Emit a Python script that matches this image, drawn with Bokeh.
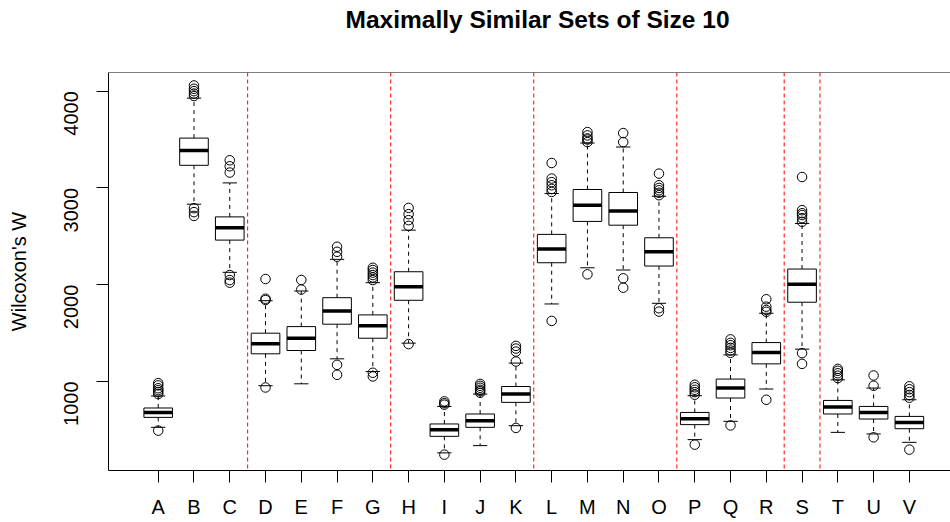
import numpy as np
from bokeh.plotting import figure
from bokeh.models import Range1d, FixedTicker, Span, ColumnDataSource, Title
from bokeh.embed import file_html
from bokeh.resources import INLINE

categories = list("ABCDEFGHIJKLMNOPQRSTUV")
positions = list(range(1, len(categories) + 1))

lower_whisker = [526, 2832, 2128, 956, 976, 1234, 1103, 1396, 262, 337, 543,
                 1801, 2175, 2152, 1808, 399, 588, 922, 1334, 474, 458, 371]
q1 = [629, 3234, 2461, 1286, 1320, 1592, 1447, 1839, 433, 526, 784,
      2227, 2654, 2615, 2193, 554, 829, 1182, 1819, 664, 612, 512]
median = [680, 3386, 2588, 1389, 1447, 1729, 1577, 1979, 502, 595, 870,
          2368, 2822, 2763, 2340, 615, 932, 1299, 2004, 736, 680, 577]
q3 = [726, 3515, 2701, 1499, 1567, 1866, 1688, 2134, 561, 664, 948,
      2520, 2984, 2953, 2485, 680, 1025, 1402, 2162, 804, 742, 639]
upper_whisker = [850, 3928, 3052, 1835, 1935, 2262, 2021, 2564, 742, 870, 1190,
                 2942, 3464, 3423, 2914, 853, 1275, 1705, 2633, 1017, 932, 811]
outliers = {
    "A": [492, 870, 890, 910, 930, 960, 983],
    "B": [2711, 2750, 2791, 3950, 3975, 4000, 4025, 4059],
    "C": [2021, 2048, 2100, 3159, 3224, 3286],
    "D": [938, 1842, 1855, 2059],
    "E": [1950, 2049],
    "F": [1069, 1172, 2289, 2340, 2392],
    "G": [1052, 1090, 2048, 2075, 2100, 2125, 2152, 2175],
    "H": [1386, 2608, 2667, 2729, 2794],
    "I": [244, 760, 775, 794],
    "J": [883, 900, 914, 935, 955, 975],
    "K": [520, 1206, 1309, 1340, 1368],
    "L": [1626, 2959, 2990, 3028, 3060, 3097, 3258],
    "M": [2107, 3474, 3500, 3512, 3543, 3577],
    "N": [1969, 2066, 3474, 3567],
    "O": [1722, 1757, 2925, 2950, 2976, 3000, 3028, 3148],
    "P": [347, 863, 890, 914, 940, 966],
    "Q": [546, 1296, 1320, 1347, 1375, 1399, 1435],
    "R": [811, 1720, 1739, 1773, 1850],
    "S": [1182, 1293, 2650, 2688, 2720, 2739, 2770, 3113],
    "T": [1035, 1060, 1085, 1110, 1130],
    "U": [423, 956, 1062],
    "V": [296, 832, 860, 890, 920, 950],
}
group_breaks = [3.5, 7.5, 11.5, 15.5, 18.5, 19.5]
y_ticks = [1000, 2000, 3000, 4000]

title_text = "Maximally Similar Sets of Size 10"
y_label = "Wilcoxon's W"

FONT = "Liberation Sans"
box_w = 0.8
cap_w = 0.4

xs = np.array(positions, dtype=float)
src = ColumnDataSource(dict(
    x=xs, x0=xs - box_w / 2, x1=xs + box_w / 2,
    c0=xs - cap_w / 2, c1=xs + cap_w / 2,
    lo=lower_whisker, q1=q1, med=median, q3=q3, hi=upper_whisker,
))

ox, oy = [], []
for i, c in enumerate(categories):
    for v in outliers[c]:
        ox.append(positions[i])
        oy.append(v)

p = figure(width=950, height=522, output_backend="svg", toolbar_location=None,
           title=None,
           x_range=Range1d(-0.39, 23.15), y_range=Range1d(80, 4193),
           min_border_left=108, min_border_right=0, min_border_top=72,
           min_border_bottom=52)
p.outline_line_color = None
p.grid.visible = False
p.background_fill_color = "white"
p.border_fill_color = "white"

# whiskers
p.segment(x0="x", y0="q3", x1="x", y1="hi", source=src, line_color="black",
          line_width=1, line_dash="4 4")
p.segment(x0="x", y0="q1", x1="x", y1="lo", source=src, line_color="black",
          line_width=1, line_dash="4 4")
p.segment(x0="c0", y0="hi", x1="c1", y1="hi", source=src, line_color="black", line_width=1)
p.segment(x0="c0", y0="lo", x1="c1", y1="lo", source=src, line_color="black", line_width=1)
# boxes
p.quad(left="x0", right="x1", bottom="q1", top="q3", source=src,
       fill_color="white", line_color="black", line_width=1)
p.segment(x0="x0", y0="med", x1="x1", y1="med", source=src, line_color="black",
          line_width=3.5, line_cap="butt")
# outliers
p.scatter(ox, oy, size=9.5, marker="circle", fill_color=None, line_color="black", line_width=1)

for b in group_breaks:
    p.add_layout(Span(location=b, dimension="height", line_color="#FF0000",
                      line_width=1, line_dash="4 3"))

p.add_layout(Span(location=4193, dimension="width", line_color="black", line_width=1))

# spacer (closest to frame), then the real title above it
p.add_layout(Title(text=" ", text_font_size="1px", standoff=34), "above")
p.add_layout(Title(text=title_text, align="left", offset=237, standoff=6,
                   text_font=FONT, text_font_size="24.5px", text_font_style="bold",
                   text_color="black"), "above")

for ax in (p.xaxis[0], p.yaxis[0]):
    ax.axis_line_color = "black"
    ax.axis_line_width = 1
    ax.major_tick_line_color = "black"
    ax.major_tick_out = 12
    ax.major_tick_in = 0
    ax.minor_tick_line_color = None
    ax.major_label_text_font = FONT
    ax.major_label_text_font_size = "20px"
    ax.major_label_text_color = "black"

p.xaxis.ticker = FixedTicker(ticks=positions)
p.xaxis.major_label_overrides = {pos: c for pos, c in zip(positions, categories)}
p.xaxis.major_label_standoff = 13

p.yaxis.ticker = FixedTicker(ticks=y_ticks)
p.yaxis.major_label_orientation = np.pi / 2
p.yaxis.major_label_standoff = 25
p.yaxis.axis_label = y_label
p.yaxis.axis_label_text_font = FONT
p.yaxis.axis_label_text_font_size = "20px"
p.yaxis.axis_label_text_font_style = "normal"
p.yaxis.axis_label_text_color = "black"
p.yaxis.axis_label_standoff = 25

open("out.html", "w").write(file_html(p, INLINE))
